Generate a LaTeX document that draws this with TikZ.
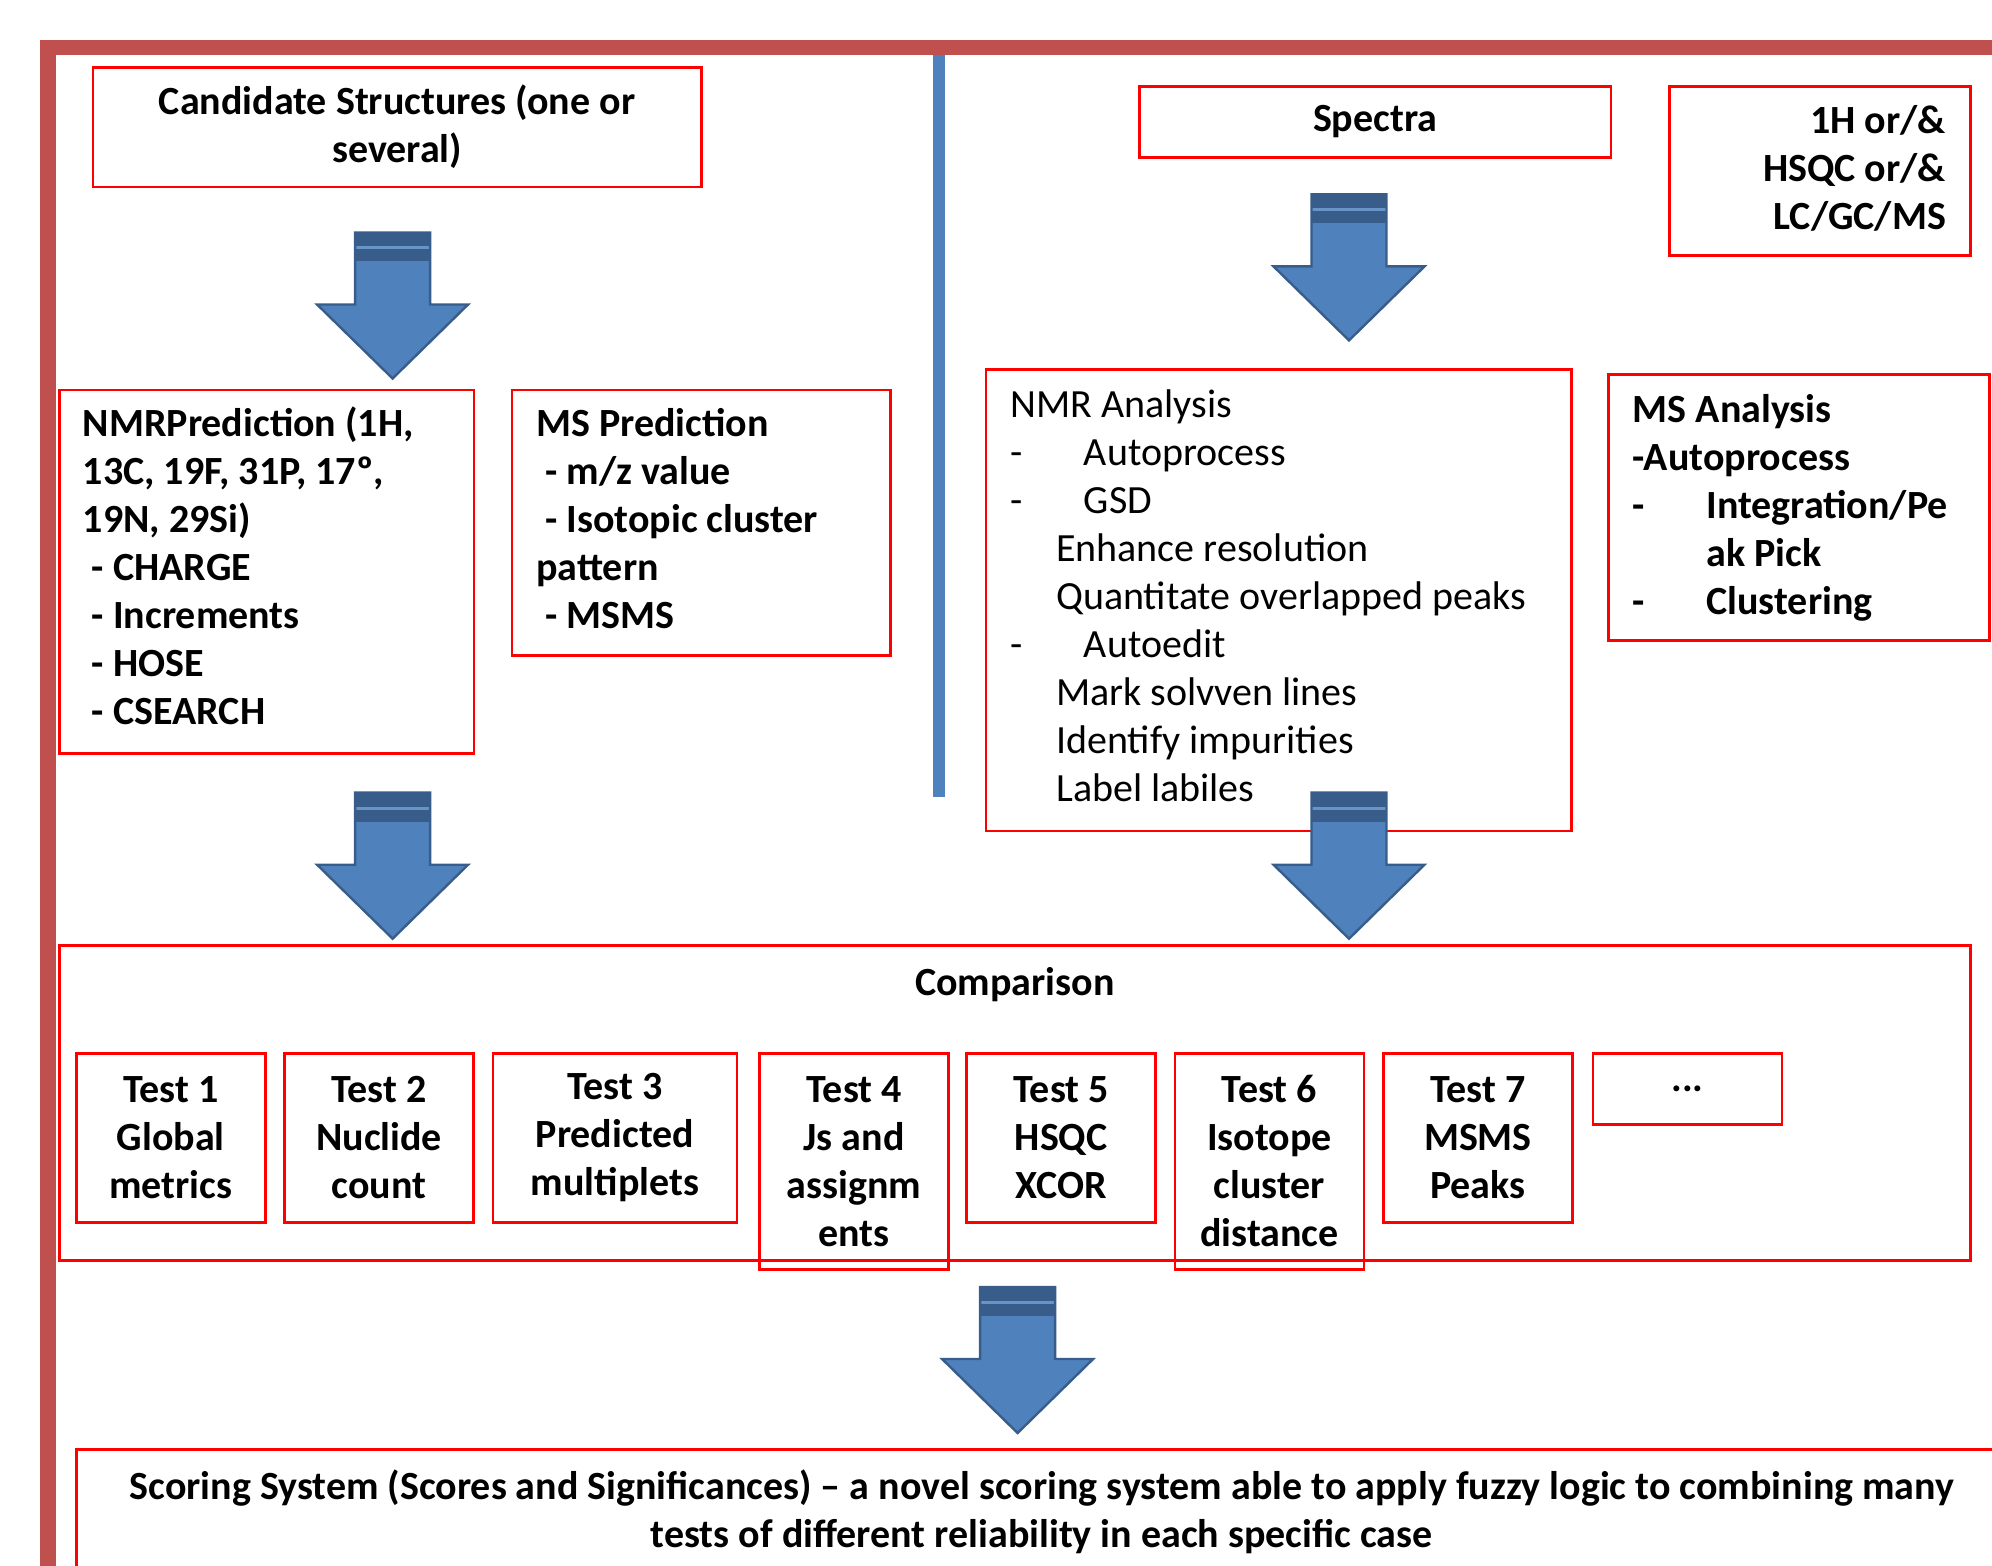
\documentclass[tikz,border=0pt]{standalone}
\usepackage{fontspec}
\setmainfont{Carlito}
\usetikzlibrary{positioning}
\definecolor{framered}{HTML}{C0504D}
\definecolor{boxred}{HTML}{FF0000}
\definecolor{arrowblue}{HTML}{4F81BD}
\definecolor{arrowedge}{HTML}{385D8A}
% big blue down arrow, #1 = top centre of the shaft
\newcommand{\blockarrow}[1]{%
  \draw[bigarrow] (#1) ++(-37.5,0) -- ++(75,0) -- ++(0,72) -- ++(38,0)
    -- ++(-75.5,74) -- ++(-75.5,-74) -- ++(38,0) -- cycle;}

\begin{document}
\begin{tikzpicture}[x=0.5pt, y=-0.5pt,
  font=\fontsize{20}{24}\selectfont\bfseries,
  box/.style={draw=boxred, line width=1.3pt, anchor=north west, inner sep=0pt, align=center},
  txt/.style={inner sep=0pt, align=left},
  testbox/.style={box, minimum width=94.5pt, minimum height=84.5pt},
  bigarrow/.style={draw=arrowedge, line width=1.2pt, fill=arrowblue,
    path picture={
      \fill[arrowedge] (path picture bounding box.north west) rectangle ++(151,29);
      \fill[arrowblue!85!white] (path picture bounding box.north west) ++(0,14) rectangle ++(151,3);}},
  outerframe/.style={draw=framered, line width=7.75pt},
  divider/.style={draw=arrowblue, line width=6pt}]
\useasboundingbox (0,0) rectangle (1992,1566);
\clip (0,0) rectangle (1992,1566);

% frame and divider
\draw[outerframe] (47.75,1600) -- (47.75,47.75) -- (2050,47.75);
\draw[divider] (938.5,55) -- (938.5,797);

% left column: structures
\node[box, minimum width=304.3pt, minimum height=59.8pt] (cand) at (91.5,66)
  {Candidate Structures (one or\\several)};
\node[box, minimum width=207.1pt, minimum height=181.7pt] (nmrp) at (58.4,388.7) {};
\node[txt, below right=6.9pt and 12.1pt of nmrp.north west]
  {\strut NMRPrediction (1H,\\13C, 19F, 31P, 17º,\\19N, 29Si)\\\hspace*{4.5pt}- CHARGE\\
   \hspace*{4.5pt}- Increments\\\hspace*{4.5pt}- HOSE\\\hspace*{4.5pt}- CSEARCH};
\node[box, minimum width=189.3pt, minimum height=132.8pt] (msp) at (510.7,388.7) {};
\node[txt, below right=6.9pt and 12.6pt of msp.north west]
  {\strut MS Prediction\\\hspace*{4.5pt}- m/z value\\\hspace*{4.5pt}- Isotopic cluster\\
   pattern\\\hspace*{4.5pt}- MSMS};

% right column: spectra
\node[box, minimum width=235.8pt, minimum height=35.7pt] (spec) at (1138,85) {Spectra};
\node[box, minimum width=150.5pt, minimum height=84.5pt] (nuc) at (1668,85) {};
\node[txt, align=right, below left=7.5pt and 12.6pt of nuc.north east]
  {\strut 1H or/\&\\HSQC or/\&\\LC/GC/MS};
\node[box, minimum width=292.7pt, minimum height=230.6pt] (nmra) at (984.6,368.4) {};
\node[txt, font=\fontsize{20}{24}\selectfont\mdseries, below right=7.5pt and 12.7pt of nmra.north west]
  {\strut NMR Analysis\\
   \makebox[36.8pt][l]{-}Autoprocess\\
   \makebox[36.8pt][l]{-}GSD\\
   \hspace*{22.9pt}Enhance resolution\\
   \hspace*{22.9pt}Quantitate overlapped peaks\\
   \makebox[36.8pt][l]{-}Autoedit\\
   \hspace*{22.9pt}Mark solvven lines\\
   \hspace*{22.9pt}Identify impurities\\
   \hspace*{22.9pt}Label labiles};
\node[box, minimum width=190.5pt, minimum height=132.8pt] (msa) at (1607,373.5) {};
\node[txt, below right=7.45pt and 12.75pt of msa.north west]
  {\strut MS Analysis\\-Autoprocess\\\makebox[36.8pt][l]{-}Integration/Pe\\
   \hspace*{36.8pt}ak Pick\\\makebox[36.8pt][l]{-}Clustering};

% comparison and its tests
\node[box, minimum width=955.3pt, minimum height=157.5pt] (comp) at (58.4,944) {};
\node[txt, below=11.3pt of comp.north] (comptitle) {Comparison};
\node[testbox] (t1) at (75,1052) {Test 1\\Global\\metrics};
\node[testbox, right=8.35pt of t1.north east, anchor=north west] (t2) {Test 2\\Nuclide\\count};
\node[testbox, minimum width=122pt, right=8.35pt of t2.north east, anchor=north west] (t3)
  {Test 3\\Predicted\\multiplets};
\node[testbox, minimum height=108pt, right=10.1pt of t3.north east, anchor=north west] (t4)
  {Test 4\\Js and\\assignm\\ents};
\node[testbox, right=7.7pt of t4.north east, anchor=north west] (t5) {Test 5\\HSQC\\XCOR};
\node[testbox, minimum height=108pt, right=8.35pt of t5.north east, anchor=north west] (t6)
  {Test 6\\Isotope\\cluster\\distance};
\node[testbox, right=8.4pt of t6.north east, anchor=north west] (t7) {Test 7\\MSMS\\Peaks};
\node[testbox, minimum height=35.5pt, right=9pt of t7.north east, anchor=north west] (more) {...};

% scoring
\node[box, minimum width=965.5pt, minimum height=62pt] (score) at (75,1448) {};
\node[txt, align=center, below=8.7pt of score.north]
  {\strut Scoring System (Scores and Significances) -- a novel scoring system able to apply fuzzy logic to combining many\\
   tests of different reliability in each specific case};

% arrows
\coordinate (a1) at (392.6,232.5);
\coordinate (a2) at (392.6,792.7);
\coordinate (a3) at (1349,194.4);
\coordinate (a4) at (1349,792.7);
\coordinate (a5) at (1017.6,1287);
\blockarrow{a1}
\blockarrow{a2}
\blockarrow{a3}
\blockarrow{a4}
\blockarrow{a5}
\end{tikzpicture}
\end{document}
